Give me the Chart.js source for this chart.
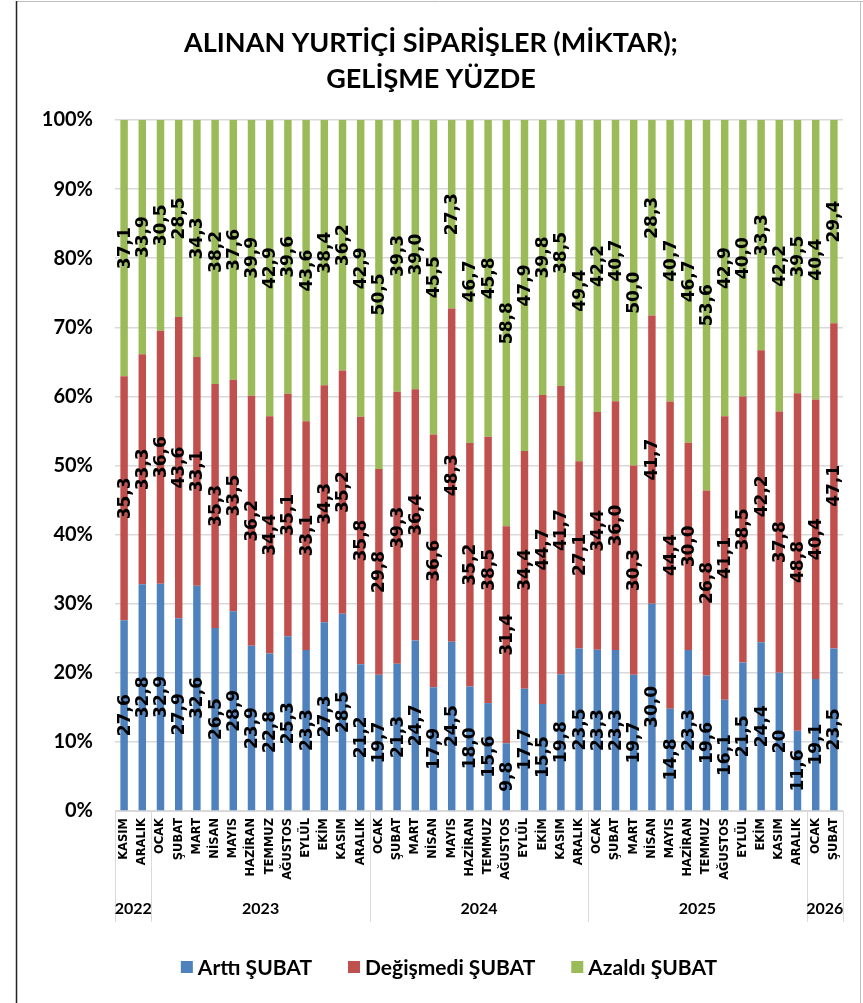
<!DOCTYPE html>
<html><head><meta charset="utf-8">
<script src="https://cdn.jsdelivr.net/npm/chart.js@4.4.1/dist/chart.umd.min.js"></script>
<style>html,body{margin:0;padding:0;background:#fff}canvas{display:block}</style>
</head><body>
<canvas id="c" width="863" height="1003"></canvas>
<script>
// ---- DATA ----
const titleLines = ['ALINAN YURTİÇİ SİPARİŞLER (MİKTAR);', 'GELİŞME YÜZDE'];
const months = ['KASIM','ARALIK',
  'OCAK','ŞUBAT','MART','NİSAN','MAYIS','HAZİRAN','TEMMUZ','AĞUSTOS','EYLÜL','EKİM','KASIM','ARALIK',
  'OCAK','ŞUBAT','MART','NİSAN','MAYIS','HAZİRAN','TEMMUZ','AĞUSTOS','EYLÜL','EKİM','KASIM','ARALIK',
  'OCAK','ŞUBAT','MART','NİSAN','MAYIS','HAZİRAN','TEMMUZ','AĞUSTOS','EYLÜL','EKİM','KASIM','ARALIK',
  'OCAK','ŞUBAT'];
const years = ['2022','2023','2024','2025','2026'];
const yearCounts = [2, 12, 12, 12, 2];
const seriesNames = ['Arttı ŞUBAT', 'Değişmedi ŞUBAT', 'Azaldı ŞUBAT'];
const arttiText = ['27,6','32,8','32,9','27,9','32,6','26,5','28,9','23,9','22,8','25,3','23,3','27,3','28,5','21,2',
  '19,7','21,3','24,7','17,9','24,5','18,0','15,6','9,8','17,7','15,5','19,8','23,5',
  '23,3','23,3','19,7','30,0','14,8','23,3','19,6','16,1','21,5','24,4','20','11,6',
  '19,1','23,5'];
const degismediText = ['35,3','33,3','36,6','43,6','33,1','35,3','33,5','36,2','34,4','35,1','33,1','34,3','35,2','35,8',
  '29,8','39,3','36,4','36,6','48,3','35,2','38,5','31,4','34,4','44,7','41,7','27,1',
  '34,4','36,0','30,3','41,7','44,4','30,0','26,8','41,1','38,5','42,2','37,8','48,8',
  '40,4','47,1'];
const azaldiText = ['37,1','33,9','30,5','28,5','34,3','38,2','37,6','39,9','42,9','39,6','43,6','38,4','36,2','42,9',
  '50,5','39,3','39,0','45,5','27,3','46,7','45,8','58,8','47,9','39,8','38,5','49,4',
  '42,2','40,7','50,0','28,3','40,7','46,7','53,6','42,9','40,0','33,3','42,2','39,5',
  '40,4','29,4'];
const yMin = 0, yMax = 100, yStep = 10;

const toNum = s => parseFloat(s.replace(',', '.'));
const artti = arttiText.map(toNum);
const degismedi = degismediText.map(toNum);
const azaldi = azaldiText.map(toNum);
const labelTexts = [arttiText, degismediText, azaldiText];
// 100% stacked: each column's shares are scaled to its own total
const totals = artti.map((v, i) => v + degismedi[i] + azaldi[i]);
const pct = arr => arr.map((v, i) => v / totals[i] * 100);

// ---- STYLE ----
const colors = ['#4F81BD', '#C0504D', '#9BBB59'];
const gridColor = '#D9D9D9';

const dataLabelsPlugin = {
  id: 'dataLabels',
  afterDatasetsDraw(chart) {
    const ctx = chart.ctx;
    ctx.save();
    ctx.font = 'bold 17px "DejaVu Sans"';
    ctx.fillStyle = '#000';
    ctx.textAlign = 'center';
    ctx.textBaseline = 'middle';
    chart.data.datasets.forEach((ds, di) => {
      const meta = chart.getDatasetMeta(di);
      meta.data.forEach((el, i) => {
        const cy = (el.y + el.base) / 2;
        ctx.save();
        ctx.translate(el.x, cy);
        ctx.rotate(-Math.PI / 2);
        ctx.fillText(labelTexts[di][i], 0, 1);
        ctx.restore();
      });
    });
    ctx.restore();
  }
};

const decorPlugin = {
  id: 'decor',
  afterDraw(chart) {
    const ctx = chart.ctx;
    const ca = chart.chartArea;
    const xs = chart.scales.x;
    ctx.save();
    // outer border
    ctx.strokeStyle = '#BFBFBF';
    ctx.lineWidth = 1;
    ctx.beginPath(); ctx.moveTo(16, 1.5); ctx.lineTo(863, 1.5); ctx.stroke();
    ctx.beginPath(); ctx.moveTo(860.5, 1); ctx.lineTo(860.5, 1003); ctx.stroke();
    ctx.strokeStyle = '#222';
    ctx.lineWidth = 1.5;
    ctx.beginPath(); ctx.moveTo(16.5, 1); ctx.lineTo(16.5, 1003); ctx.stroke();

    // title
    ctx.fillStyle = '#000';
    ctx.textAlign = 'center';
    ctx.textBaseline = 'middle';
    ctx.font = 'bold 27px Lato';
    ctx.fillText(titleLines[0], 431, 43);
    ctx.fillText(titleLines[1], 431, 79);

    // year groups
    const bottomY = 922;
    ctx.strokeStyle = gridColor;
    ctx.lineWidth = 1;
    let start = 0;
    const boundary = idx => {
      if (idx <= 0) return ca.left;
      if (idx >= months.length) return ca.right;
      return (xs.getPixelForValue(idx - 1) + xs.getPixelForValue(idx)) / 2;
    };
    ctx.font = 'bold 16px Lato';
    ctx.textBaseline = 'middle';
    years.forEach((yr, k) => {
      const l = boundary(start), r = boundary(start + yearCounts[k]);
      ctx.beginPath(); ctx.moveTo(Math.round(l) + 0.5, ca.bottom); ctx.lineTo(Math.round(l) + 0.5, bottomY); ctx.stroke();
      ctx.beginPath(); ctx.moveTo(Math.round(r) + 0.5, ca.bottom); ctx.lineTo(Math.round(r) + 0.5, bottomY); ctx.stroke();
      ctx.fillText(yr, (l + r) / 2, 909);
      start += yearCounts[k];
    });

    // legend
    ctx.font = 'bold 21px Lato';
    const gap = 36, box = 12, boxGap = 5;
    const widths = seriesNames.map(n => box + boxGap + ctx.measureText(n).width);
    const total = widths.reduce((a, b) => a + b, 0) + gap * (seriesNames.length - 1);
    let x = 449 - total / 2;
    const ly = 967;
    ctx.textAlign = 'left';
    seriesNames.forEach((n, i) => {
      ctx.fillStyle = colors[i];
      ctx.fillRect(x, ly - box / 2, box, box);
      ctx.fillStyle = '#000';
      ctx.fillText(n, x + box + boxGap, ly + 1);
      x += widths[i] + gap;
    });
    ctx.restore();
  }
};

new Chart(document.getElementById('c'), {
  type: 'bar',
  data: {
    labels: months,
    datasets: [
      { label: seriesNames[0], data: pct(artti), backgroundColor: colors[0] },
      { label: seriesNames[1], data: pct(degismedi), backgroundColor: colors[1] },
      { label: seriesNames[2], data: pct(azaldi), backgroundColor: colors[2] }
    ]
  },
  options: {
    responsive: false,
    animation: false,
    devicePixelRatio: 1,
    datasets: { bar: { barPercentage: 0.41, categoryPercentage: 1.0 } },
    layout: { padding: { left: 20, right: 20, top: 120, bottom: 72 } },
    plugins: { legend: { display: false }, title: { display: false }, tooltip: { enabled: false } },
    scales: {
      x: {
        stacked: true,
        grid: { display: false, drawTicks: false },
        border: { display: true, color: gridColor, width: 1 },
        ticks: {
          autoSkip: false, maxRotation: 90, minRotation: 90, padding: 7,
          color: '#000', font: { family: 'DejaVu Sans', weight: 'bold', size: 11.5 }
        },
        afterFit(s) { s.height = 120; }
      },
      y: {
        stacked: true,
        min: yMin, max: yMax,
        grid: { color: gridColor, lineWidth: 1.5, drawTicks: false },
        border: { display: false },
        ticks: {
          stepSize: yStep, padding: 22, color: '#000',
          font: { family: 'Lato', weight: 'bold', size: 20 },
          callback: v => v + '%'
        },
        afterFit(s) { s.width = 95; }
      }
    }
  },
  plugins: [dataLabelsPlugin, decorPlugin]
});
</script>
</body></html>
